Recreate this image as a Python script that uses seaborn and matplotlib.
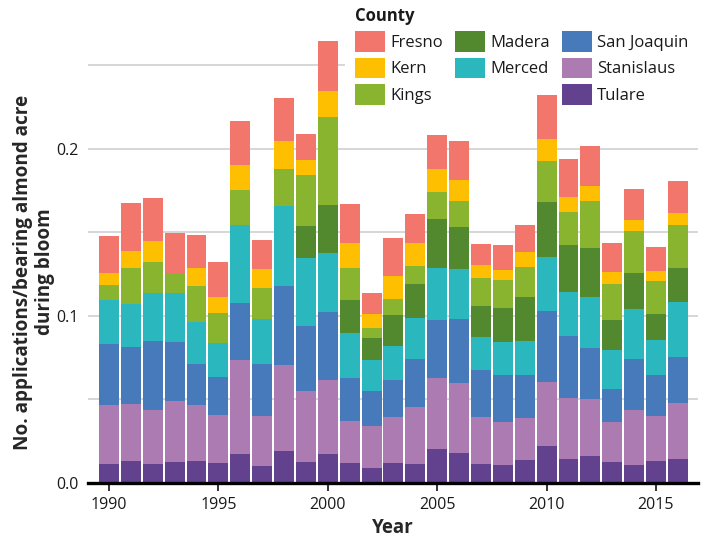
import numpy as np
import pandas as pd
import seaborn as sns
import matplotlib.pyplot as plt
from matplotlib.patches import Rectangle

years = list(range(1990, 2017))

counties = ["Fresno", "Kern", "Kings", "Madera", "Merced",
            "San Joaquin", "Stanislaus", "Tulare"]
palette = ["#F3766D", "#FDBF00", "#88B42F", "#52882E", "#2AB7BE",
           "#477ABB", "#AB7BB2", "#62418F"]

# values (applications / bearing acre)
fresno = [0.0222, 0.0288, 0.0258, 0.0240, 0.0198, 0.0209, 0.0264, 0.0174, 0.0258,
          0.0155, 0.0299, 0.0234, 0.0126, 0.0227, 0.0174, 0.0204, 0.0234, 0.0126,
          0.0150, 0.0162, 0.0263, 0.0227, 0.0240, 0.0174, 0.0185, 0.0144, 0.0191]
kern = [0.0071, 0.0102, 0.0126, 0.0, 0.0108, 0.0096, 0.0149, 0.0113, 0.0167,
        0.0090, 0.0156, 0.0150, 0.0084, 0.0138, 0.0138, 0.0137, 0.0125, 0.0077,
        0.0059, 0.0090, 0.0132, 0.0090, 0.0089, 0.0071, 0.0066, 0.0059, 0.0072]
kings = [0.0088, 0.0213, 0.0185, 0.0119, 0.0215, 0.0180, 0.0210, 0.0186, 0.0220,
         0.0305, 0.0527, 0.0191, 0.0060, 0.0096, 0.0107, 0.0162, 0.0156, 0.0168,
         0.0168, 0.0179, 0.0245, 0.0198, 0.0282, 0.0216, 0.0252, 0.0198, 0.0258]
madera = [0.0, 0.0, 0.0, 0.0, 0.0, 0.0, 0.0, 0.0, 0.0,
          0.0192, 0.0287, 0.0198, 0.0132, 0.0185, 0.0204, 0.0294, 0.0252, 0.0186,
          0.0204, 0.0264, 0.0330, 0.0281, 0.0293, 0.0180, 0.0215, 0.0156, 0.0203]
merced = [0.0265, 0.0260, 0.0287, 0.0294, 0.0251, 0.0203, 0.0467, 0.0269, 0.0481,
          0.0407, 0.0354, 0.0269, 0.0185, 0.0204, 0.0245, 0.0311, 0.0299, 0.0197,
          0.0197, 0.0203, 0.0323, 0.0264, 0.0306, 0.0233, 0.0299, 0.0209, 0.0330]
san_joaquin = [0.0366, 0.0341, 0.0414, 0.0353, 0.0246, 0.0228, 0.0341, 0.0312, 0.0472,
               0.0390, 0.0407, 0.0258, 0.0210, 0.0222, 0.0288, 0.0347, 0.0383, 0.0282,
               0.0282, 0.0258, 0.0425, 0.0371, 0.0305, 0.0198, 0.0306, 0.0246, 0.0275]
stanislaus = [0.0353, 0.0341, 0.0323, 0.0365, 0.0335, 0.0287, 0.0563, 0.0299, 0.0515,
              0.0425, 0.0443, 0.0251, 0.0251, 0.0275, 0.0341, 0.0425, 0.0419, 0.0281,
              0.0257, 0.0251, 0.0383, 0.0365, 0.0341, 0.0239, 0.0329, 0.0269, 0.0335]
tulare = [0.0113, 0.0131, 0.0113, 0.0125, 0.0131, 0.0119, 0.0173, 0.0101, 0.0191,
          0.0125, 0.0173, 0.0119, 0.0089, 0.0119, 0.0114, 0.0204, 0.0180, 0.0114,
          0.0108, 0.0138, 0.0222, 0.0144, 0.0162, 0.0126, 0.0108, 0.0132, 0.0144]

series = [fresno, kern, kings, madera, merced, san_joaquin, stanislaus, tulare]

rows = []
for name, vals in zip(counties, series):
    for yr, v in zip(years, vals):
        rows.append({"Year": yr, "County": name, "value": v})
df = pd.DataFrame(rows)

sns.set_theme(style="white")
plt.rcParams['font.family'] = ['Open Sans', 'DejaVu Sans']
plt.rcParams['text.color'] = '#1a1a1a'

fig = plt.figure(figsize=(7.09, 5.37), dpi=100)
ax = fig.add_axes([88/709, 1 - 483/537, (698-88)/709, (483-35)/537])

# stacked bars: first hue level ends up on top
sns.histplot(data=df, x="Year", weights="value", hue="County", hue_order=counties,
             palette=palette, multiple="stack", discrete=True, shrink=0.91,
             alpha=1, linewidth=0, legend=False, ax=ax)

ax.set_xlim(1989.04, 2016.92)
ax.set_ylim(0, 0.268)
ax.set_yticks([0.0, 0.1, 0.2])
ax.set_yticklabels(["0.0", "0.1", "0.2"])
ax.set_yticks([0.05, 0.15, 0.25], minor=True)
ax.yaxis.grid(True, which='both', color='#cccccc', linewidth=1.1)
ax.set_axisbelow(True)
ax.set_xticks([1990, 1995, 2000, 2005, 2010, 2015])

ax.tick_params(axis='y', which='both', length=0, pad=7, labelsize=11.5, labelcolor='#1a1a1a')
ax.tick_params(axis='x', length=6, width=1.4, color='#333333', direction='out',
               pad=4, labelsize=11.5, labelcolor='#1a1a1a')
ax.tick_params(axis='x', bottom=True)

for s in ['left', 'right', 'top']:
    ax.spines[s].set_visible(False)
ax.spines['bottom'].set_color('black')
ax.spines['bottom'].set_linewidth(2.4)

ax.set_xlabel("Year", fontsize=13.5, fontweight='bold', labelpad=4)
ax.set_ylabel("No. applications/bearing almond acre\nduring bloom", fontsize=13.6,
              fontweight='bold', linespacing=1.15)
ax.yaxis.set_label_coords(55/709, 1 - 272/537, transform=fig.transFigure)

# legend laid out 3 / 2 / 3 like the reference
handles = [Rectangle((0, 0), 1, 1, facecolor=c, edgecolor='none') for c in palette]
labels = list(counties)
blank = Rectangle((0, 0), 1, 1, facecolor='none', edgecolor='none')
handles.insert(5, blank)
labels.insert(5, "")
leg = ax.legend(handles, labels, title="County", ncol=3, loc='upper left',
                bbox_to_anchor=(345/709, 1.0056), bbox_transform=fig.transFigure,
                borderaxespad=0,
                fontsize=12, title_fontproperties={'weight': 'bold', 'size': 12},
                alignment='left', handlelength=1.8, handleheight=1.55,
                handletextpad=0.3, columnspacing=0.75, labelspacing=0.35,
                borderpad=0.6, frameon=True, fancybox=False)
leg.get_frame().set_facecolor('white')
leg.get_frame().set_edgecolor('none')
leg.get_frame().set_alpha(1)
leg.set_zorder(0.8)

fig.savefig("out.png", dpi=100)
